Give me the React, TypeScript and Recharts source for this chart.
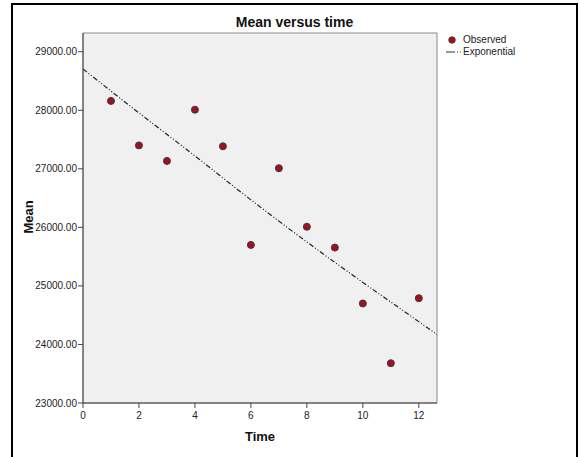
import React from 'react';
import {
  ComposedChart,
  Scatter,
  Line,
  XAxis,
  YAxis,
  ReferenceArea
} from 'recharts';

// observed means per time point
const timePoints = [1, 2, 3, 4, 5, 6, 7, 8, 9, 10, 11, 12];
const observedMean = [28160, 27400, 27135, 28010, 27385, 25700, 27010, 26010, 25655, 24700, 23680, 24790];

// exponential fit, read at a few points along the curve
const fitTime = [0, 2, 4, 6, 8, 10, 12, 12.65];
const fitMean = [28705, 27955, 27220, 26470, 25750, 25060, 24390, 24170];

const xTicks = [0, 2, 4, 6, 8, 10, 12];
const yTicks = [23000, 24000, 25000, 26000, 27000, 28000, 29000];

const observed = timePoints.map((t, i) => ({ time: t, mean: observedMean[i] }));
const fit = fitTime.map((t, i) => ({ time: t, mean: fitMean[i] }));

const FONT = '"Liberation Sans", Arial, sans-serif';
const DOT_FILL = '#A3101A';
const LINE_DASH = '5 2 1 2 1 2';

const Dot = (props: any) => {
  const { cx, cy } = props;
  if (cx == null || cy == null) return null;
  return <circle cx={cx} cy={cy} r={3.5} fill={DOT_FILL} stroke="#3a3a3a" strokeWidth={1} />;
};

const LegendBox = () => (
  <div
    style={{
      position: 'absolute', left: 446, top: 34,
      fontFamily: FONT, fontSize: 10, color: '#222', lineHeight: '12px'
    }}
  >
    <div style={{ display: 'flex', alignItems: 'center', height: 12 }}>
      <svg width={16} height={12}>
        <circle cx={6} cy={6} r={3.3} fill={DOT_FILL} stroke="#3a3a3a" strokeWidth={0.8} />
      </svg>
      <span style={{ marginLeft: 1 }}>Observed</span>
    </div>
    <div style={{ display: 'flex', alignItems: 'center', height: 12 }}>
      <svg width={17} height={12}>
        <line x1={0} y1={6} x2={17} y2={6} stroke="#333" strokeWidth={1.2} strokeDasharray="9 2 1 2 1 2" />
      </svg>
      <span>Exponential</span>
    </div>
  </div>
);

export default function App() {
  return (
    <div style={{ position: 'absolute', left: 0, top: 0, width: 579, height: 457, overflow: 'hidden', background: '#fff' }}>
      <div
        style={{
          position: 'absolute', left: 11, top: 3, width: 563, height: 470,
          border: '2px solid #000'
        }}
      />
      <div
        style={{
          position: 'absolute', left: 12, width: 565, top: 14, textAlign: 'center',
          fontFamily: FONT, fontWeight: 'bold', fontSize: 14, color: '#111'
        }}
      >
        Mean versus time
      </div>
      <div
        style={{
          position: 'absolute', left: 0, top: 429, width: 520, textAlign: 'center',
          fontFamily: FONT, fontWeight: 'bold', fontSize: 13, color: '#111'
        }}
      >
        Time
      </div>
      <div
        style={{
          position: 'absolute', left: 28, top: 217, transform: 'translate(-50%, -50%) rotate(-90deg)',
          fontFamily: FONT, fontWeight: 'bold', fontSize: 13, color: '#111', whiteSpace: 'nowrap'
        }}
      >
        Mean
      </div>
      <ComposedChart
        width={579}
        height={457}
        margin={{ top: 33, right: 142, bottom: 24, left: 12 }}
        style={{ position: 'absolute', left: 0, top: 0 }}
      >
        <ReferenceArea
          x1={0}
          x2={12.65}
          y1={23000}
          y2={29320}
          fill="#F0F0F0"
          fillOpacity={1}
          stroke="#8a8a8a"
          strokeWidth={1}
        />
        <XAxis
          type="number"
          dataKey="time"
          domain={[0, 12.65]}
          ticks={xTicks}
          allowDataOverflow
          height={30}
          stroke="#444"
          tickSize={5}
          tickMargin={4}
          tick={{ fill: '#222', fontSize: 10, fontFamily: FONT }}
        />
        <YAxis
          type="number"
          dataKey="mean"
          domain={[23000, 29320]}
          ticks={yTicks}
          allowDataOverflow
          width={71}
          stroke="#444"
          tickSize={5}
          tickMargin={1}
          tickFormatter={(v: number) => v.toFixed(2)}
          tick={{ fill: '#222', fontSize: 10, fontFamily: FONT }}
        />
        <Line
          data={fit}
          dataKey="mean"
          type="monotone"
          stroke="#222"
          strokeWidth={1.2}
          strokeDasharray={LINE_DASH}
          dot={false}
          activeDot={false}
          isAnimationActive={false}
        />
        <Scatter
          data={observed}
          dataKey="mean"
          shape={Dot}
          isAnimationActive={false}
        />
      </ComposedChart>
      <LegendBox />
    </div>
  );
}
